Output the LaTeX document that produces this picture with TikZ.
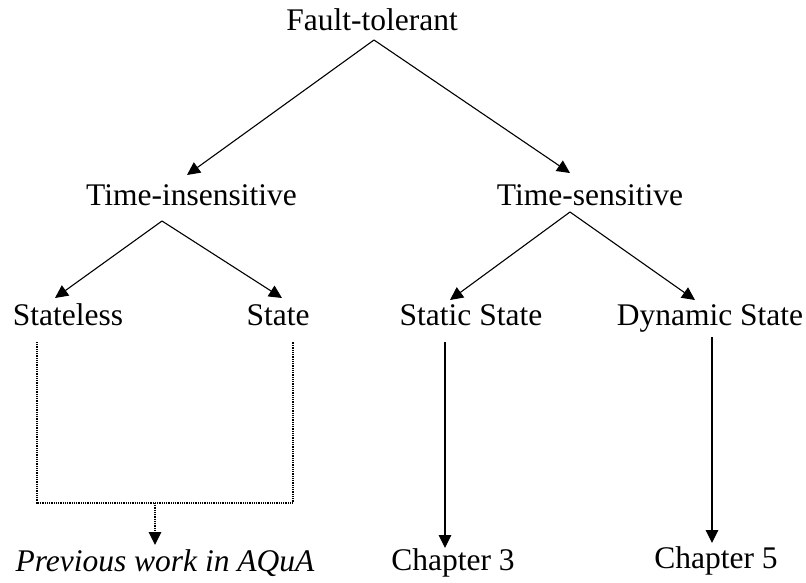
\documentclass[tikz,border=0pt]{standalone}
\usepackage{fontspec}
\setmainfont{Liberation Serif}
\usetikzlibrary{arrows.meta}
\begin{document}
\begin{tikzpicture}[x=1pt,y=-1pt,
  lbl/.style={anchor=base,inner sep=0pt,font=\fontsize{31.5}{36}\selectfont},
  tip/.style={-{Triangle[length=13pt,width=12.5pt]}},
  arr/.style={tip,line width=1.1pt},
  dots/.style={line width=1.1pt,dash pattern=on 1pt off 0.8pt},
]
\useasboundingbox[fill=white] (0,0) rectangle (806,582);

% labels of the classification tree
\node[lbl] (ft)   at (372,30)  {Fault-tolerant};
\node[lbl] (tin)  at (191.5,205) {Time-insensitive};
\node[lbl] (ts)   at (590,205) {Time-sensitive};
\node[lbl] (sl)   at (68,325)  {Stateless};
\node[lbl] (st)   at (278,325) {State};
\node[lbl] (ss)   at (471,325) {Static State};
\node[lbl] (ds)   at (710,325) {Dynamic State};
\node[lbl] (prev) at (165,571) {\itshape Previous work in AQuA};
\node[lbl] (ch3)  at (453,570) {Chapter 3};
\node[lbl] (ch5)  at (716,568) {Chapter 5};

% connector end points
\coordinate (ft-o)  at (374,40);
\coordinate (tin-i) at (187,175);
\coordinate (ts-i)  at (570,173);
\coordinate (tin-o) at (162,221);
\coordinate (sl-i)  at (55,298);
\coordinate (st-i)  at (282,298);
\coordinate (ts-o)  at (570,212);
\coordinate (ss-i)  at (450,300);
\coordinate (ds-i)  at (695,300);
\coordinate (ss-o)  at (445,342);
\coordinate (ch3-i) at (445,548);
\coordinate (ds-o)  at (712,337);
\coordinate (ch5-i) at (712,543);
\coordinate (sl-o)  at (37,342);
\coordinate (st-o)  at (293,342);
\coordinate (join)  at (155,503);
\coordinate (prev-i) at (155,545);

% solid arrows
\draw[arr] (ft-o) -- (tin-i);
\draw[arr] (ft-o) -- (ts-i);
\draw[arr] (tin-o) -- (sl-i);
\draw[arr] (tin-o) -- (st-i);
\draw[arr] (ts-o) -- (ss-i);
\draw[arr] (ts-o) -- (ds-i);
\draw[arr] (ss-o) -- (ch3-i);
\draw[arr] (ds-o) -- (ch5-i);

% dotted bracket joining the time-insensitive leaves
\draw[dots] (sl-o) |- (join) -| (st-o);
\draw[dots,tip] (join) -- (prev-i);
\end{tikzpicture}
\end{document}
